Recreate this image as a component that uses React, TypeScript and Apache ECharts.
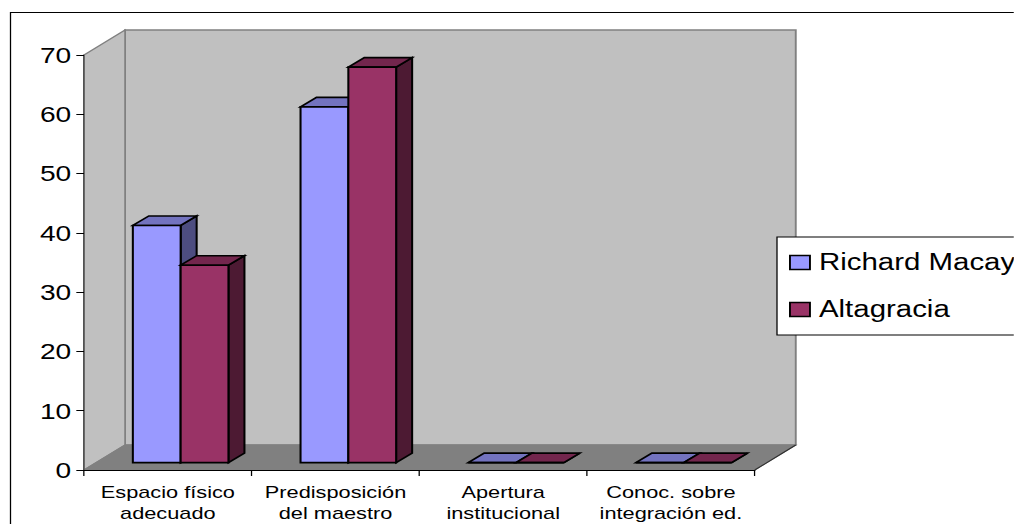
import React, { useEffect, useRef } from "react";
import * as echarts from "echarts";

// Categories, series values and tick labels
const categories = [
  "Espacio físico\nadecuado",
  "Predisposición\ndel maestro",
  "Apertura\ninstitucional",
  "Conoc. sobre\nintegración ed.",
];
const richardMacay = [40, 60, 0, 0];
const altagracia = [33.3, 66.7, 0, 0];
const seriesNames = ["Richard Macay", "Altagracia"];
const valueTicks = { min: 0, max: 70, interval: 10 };

// The whole chart is laid out narrower and widened with a CSS transform,
// which gives the broad lettering of the classic 3D column look.
const STRETCH = 1.28;
const W = 1014;
const H = 524;
const sx = (px: number) => px / STRETCH;

const DEPTH_X = sx(41);
const DEPTH_Y = 25;
const BAR_W = sx(47.8);
const BAR_OFFSET_X = sx(12.8);
const BAR_OFFSET_Y = 7.4;
const BAR_DEPTH_X = sx(16);
const BAR_DEPTH_Y = 9.5;

const palettes = [
  { front: "#9999FF", top: "#7373BF", side: "#4D4D80" },
  { front: "#993366", top: "#73264D", side: "#4D1A33" },
];

const poly = (points: number[][], fill: string, stroke: string, lineWidth: number) => ({
  type: "polygon",
  shape: { points },
  style: { fill, stroke, lineWidth, lineJoin: "miter" },
});

// Back wall, side wall and floor of the 3D box
const renderWalls = (params: any) => {
  const { x, y, width, height } = params.coordSys;
  const b = y + height;
  const r = x + width;
  const edge = "#808080";
  return {
    type: "group",
    children: [
      poly([[x + DEPTH_X, y - DEPTH_Y], [r + DEPTH_X, y - DEPTH_Y], [r + DEPTH_X, b - DEPTH_Y], [x + DEPTH_X, b - DEPTH_Y]], "#C0C0C0", edge, 1.5),
      poly([[x, y], [x + DEPTH_X, y - DEPTH_Y], [x + DEPTH_X, b - DEPTH_Y], [x, b]], "#C0C0C0", edge, 1.2),
      poly([[x, b], [x + DEPTH_X, b - DEPTH_Y], [r + DEPTH_X, b - DEPTH_Y], [r, b]], "#808080", "#808080", 1),
      {
        type: "line",
        shape: { x1: r, y1: b, x2: r + DEPTH_X, y2: b - DEPTH_Y },
        style: { stroke: "#303030", lineWidth: 1 },
      },
    ],
  };
};

// One 3D column: side and top faces behind the front rectangle
const makeBarRenderer = (seriesIndex: number) => (_params: any, api: any) => {
  const i = api.value(0);
  const [cx, base] = api.coord([i, 0]);
  const [, top] = api.coord([i, api.value(1)]);
  const c = palettes[seriesIndex];
  const x0 = cx + BAR_OFFSET_X - BAR_W + seriesIndex * BAR_W;
  const x1 = x0 + BAR_W;
  const yB = base - BAR_OFFSET_Y;
  const yT = top - BAR_OFFSET_Y;
  const stroke = "#000";
  const lw = 1.6;
  return {
    type: "group",
    children: [
      poly([[x1, yT], [x1 + BAR_DEPTH_X, yT - BAR_DEPTH_Y], [x1 + BAR_DEPTH_X, yB - BAR_DEPTH_Y], [x1, yB]], c.side, stroke, lw),
      poly([[x0, yT], [x0 + BAR_DEPTH_X, yT - BAR_DEPTH_Y], [x1 + BAR_DEPTH_X, yT - BAR_DEPTH_Y], [x1, yT]], c.top, stroke, lw),
      poly([[x0, yT], [x1, yT], [x1, yB], [x0, yB]], c.front, stroke, lw),
    ],
  };
};

const toPairs = (values: number[]) => values.map((v, i) => [i, v]);

export default function App() {
  const ref = useRef<HTMLDivElement>(null);

  useEffect(() => {
    document.body.style.margin = "0";
    document.body.style.overflow = "hidden";
    const chart = echarts.init(ref.current!, undefined, { renderer: "svg" });
    const font = "'Liberation Sans', Arial, sans-serif";
    chart.setOption({
      animation: false,
      backgroundColor: "#fff",
      textStyle: { fontFamily: font },
      grid: { left: sx(84), right: sx(W - 755), top: 55, bottom: H - 470 },
      xAxis: {
        type: "category",
        data: categories,
        z: 5,
        axisLine: { lineStyle: { color: "#000", width: 1 } },
        axisTick: { show: true, length: 6, interval: 0, lineStyle: { color: "#000", width: 1 } },
        axisLabel: { interval: 0, fontSize: 17, lineHeight: 21, color: "#000", margin: 11, fontFamily: font },
        splitLine: { show: false },
      },
      yAxis: {
        type: "value",
        min: valueTicks.min,
        max: valueTicks.max,
        interval: valueTicks.interval,
        z: 5,
        axisLine: { show: true, lineStyle: { color: "#404040", width: 1 } },
        axisTick: { show: true, length: 6, lineStyle: { color: "#000", width: 1 } },
        axisLabel: { fontSize: 22, color: "#000", margin: 10, padding: [4, 0, 0, 0], fontFamily: font },
        splitLine: { show: false },
      },
      legend: {
        orient: "vertical",
        left: sx(777),
        top: 237,
        padding: [14, 4, 14, sx(12)],
        itemWidth: sx(20),
        itemHeight: 14,
        itemGap: 24,
        backgroundColor: "#fff",
        borderColor: "#000",
        borderWidth: 1,
        z: 10,
        textStyle: { fontSize: 23, color: "#000", fontFamily: font, padding: [0, 0, 0, 2] },
        data: seriesNames.map((name, i) => ({
          name,
          icon: "rect",
          itemStyle: { color: palettes[i].front, borderColor: "#000", borderWidth: 1.5 },
        })),
      },
      graphic: [
        {
          type: "rect",
          z: 20,
          shape: { x: sx(10.5), y: 12.5, width: W, height: H },
          style: { fill: "none", stroke: "#000", lineWidth: 1 },
        },
      ],
      series: [
        {
          type: "custom",
          name: "walls",
          z: 1,
          silent: true,
          coordinateSystem: "cartesian2d",
          renderItem: renderWalls,
          data: [[0, 0]],
          encode: { x: 0, y: 1 },
        },
        ...[richardMacay, altagracia].map((values, i) => ({
          type: "custom",
          name: seriesNames[i],
          z: 6,
          coordinateSystem: "cartesian2d",
          renderItem: makeBarRenderer(i),
          itemStyle: { color: palettes[i].front },
          data: toPairs(values),
          encode: { x: 0, y: 1 },
        })),
      ],
    });
    return () => chart.dispose();
  }, []);

  return (
    <div style={{ width: W, height: H, overflow: "hidden", background: "#fff" }}>
      <div
        ref={ref}
        style={{
          width: W / STRETCH,
          height: H,
          transform: `scaleX(${STRETCH})`,
          transformOrigin: "0 0",
        }}
      />
    </div>
  );
}
